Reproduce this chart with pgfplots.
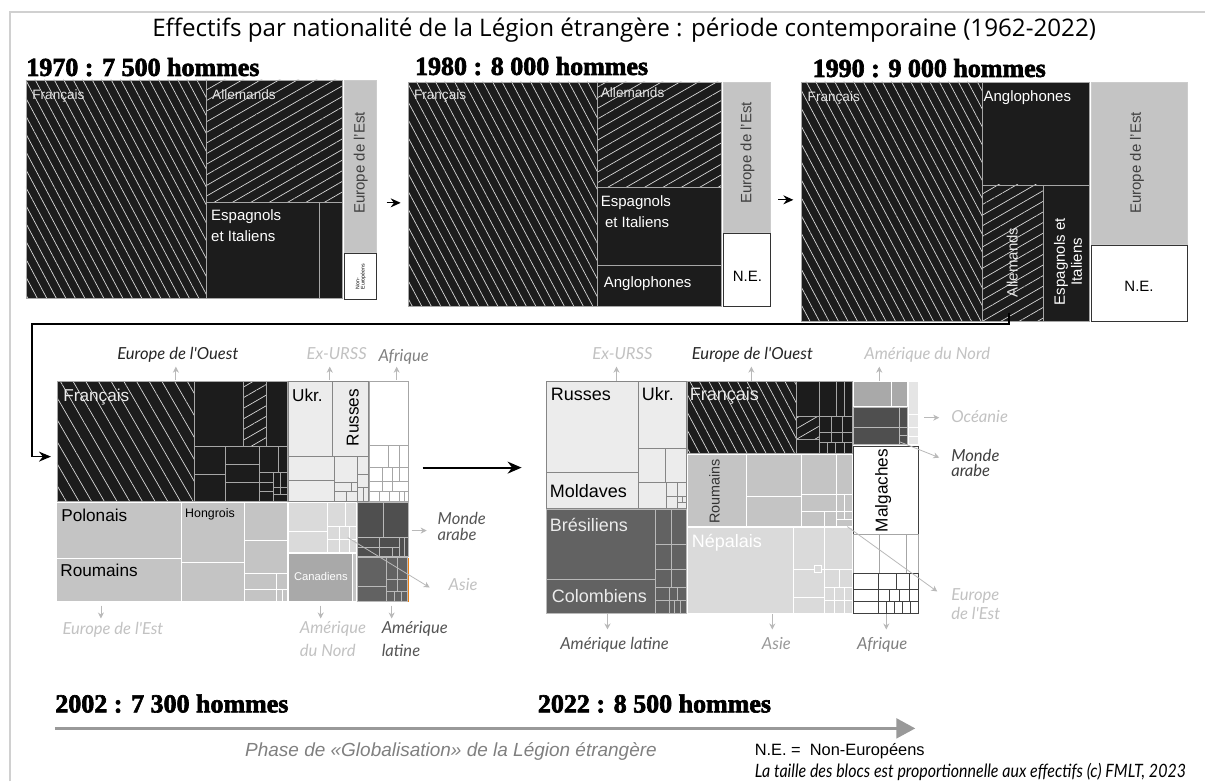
\documentclass[border=0pt]{standalone}
\usepackage{fontspec}
\setmainfont{Liberation Sans}
\newfontfamily\titlefont{Open Sans}
\newfontfamily\headfont{Liberation Serif}[BoldFeatures={FakeBold=2.5}]
\newfontfamily\itfont{Lato}
\usepackage{pgfplots}
\pgfplotsset{compat=1.18}
\usetikzlibrary{patterns.meta,arrows.meta}
\definecolor{blk}{HTML}{1C1C1C}
\definecolor{eeg}{HTML}{C4C4C4}
\definecolor{urss}{HTML}{ECECEC}
\definecolor{asie}{HTML}{DADADA}
\definecolor{amn}{HTML}{A9A9A9}
\definecolor{arab}{HTML}{4F4F4F}
\definecolor{amlat}{HTML}{626262}
\definecolor{lab}{HTML}{C2C2C2}
\definecolor{labd}{HTML}{555555}
\definecolor{frame}{HTML}{D0D0D0}
\newcommand{\fs}[1]{\fontsize{#1}{#1}\selectfont}
\newcommand{\R}[5][]{\addplot[#1] coordinates {(#2,#3) (#4,#3) (#4,#5) (#2,#5)} -- cycle;}
\newcommand{\hd}[1]{{\headfont\bfseries\fs{13}#1}}
\tikzset{
  bk/.style={fill=blk, draw=gray!70, line width=0.35pt},
  hsA/.style={preaction={fill=blk}, pattern={Lines[angle=-62,distance=4.2pt,line width=0.35pt]}, pattern color=white!85!black, draw=gray!70, line width=0.35pt},
  hsB/.style={preaction={fill=blk}, pattern={Lines[angle=-60,distance=5.5pt,line width=0.35pt]}, pattern color=white!85!black, draw=gray!70, line width=0.35pt},
  hsC/.style={preaction={fill=blk}, pattern={Lines[angle=30,distance=4.6pt,line width=0.35pt]}, pattern color=white!85!black, draw=gray!70, line width=0.35pt},
  ee/.style={fill=eeg, draw=white, line width=0.5pt},
  eet/.style={fill=eeg, draw=gray!40, line width=0.4pt},
  ne/.style={fill=white, draw=black!80, line width=0.5pt},
  ur/.style={fill=urss, draw=gray!95, line width=0.4pt},
  af/.style={fill=white, draw=gray!70, line width=0.4pt},
  afb/.style={fill=white, draw=black!75, line width=0.4pt},
  as/.style={fill=asie, draw=white, line width=0.5pt},
  an/.style={fill=amn, draw=white, line width=0.5pt},
  ar/.style={fill=arab, draw=gray!55, line width=0.4pt},
  al/.style={fill=amlat, draw=gray!55, line width=0.4pt},
  oc/.style={fill=black!10, draw=white, line width=0.4pt},
  sa/.style={draw=gray!55, line width=0.4pt, -{Stealth[length=3pt,width=3pt]}},
  ba/.style={draw=black, line width=0.6pt, -{Stealth[length=5pt,width=4.5pt]}},
  lt/.style={font=\itfont\itshape\fs{8.3}},
  bx/.style={font=\fs{7.5}, inner sep=0pt},
}
\begin{document}
\begin{tikzpicture}
\begin{axis}[scale only axis, width=603pt, height=391pt,
  xmin=0, xmax=1206, ymin=0, ymax=782, y dir=reverse,
  hide axis, clip=false]
% background and frame
\R[fill=white, draw=none]{0}{0}{1206}{782}
\addplot[draw=frame, line width=1pt] coordinates {(10,782) (10,12) (1206,12)};
% ===== 1970 =====
\R[hsA]{26}{80}{207}{299}
\R[hsC]{207}{80}{343}{203}
\R[bk]{207}{203}{320}{299}
\R[bk]{320}{203}{343}{299}
\R[eet]{345}{80}{377}{253}
\R[ne]{345}{254}{377}{300}
% ===== 1980 =====
\R[hsA]{409}{82}{598}{307}
\R[hsC]{598}{82}{722}{187}
\R[bk]{598}{187}{722}{266}
\R[bk]{598}{266}{722}{307}
\R[eet]{724}{82}{771}{233}
\R[ne]{724}{234}{771}{307}
% ===== 1990 =====
\R[hsA]{802}{82}{983}{322}
\R[bk]{983}{82}{1090}{185}
\R[hsC]{983}{185}{1044}{322}
\R[bk]{1044}{185}{1090}{322}
\R[eet]{1092}{82}{1188}{245}
\R[ne]{1092}{246}{1188}{322}
% arrows between top charts
\addplot[ba] coordinates {(387,203) (401,203)};
\addplot[ba] coordinates {(779,200) (794,200)};
\addplot[draw=black, line width=0.8pt, -{Stealth[length=6pt,width=5pt]}] coordinates {(1010,313) (1010,324) (32,324) (32,457) (51,457)};
% ===== 2002 =====
% Europe de l'Ouest
\R[hsB]{57}{382}{195}{502}
\R[bk]{195}{382}{244}{447}
\R[hsC]{244}{382}{267}{447}
\R[bk]{267}{382}{288}{447}
\R[bk]{195}{447}{226}{475}
\R[bk]{195}{475}{226}{502}
\R[bk]{226}{447}{260}{465}
\R[bk]{226}{465}{260}{483}
\R[bk]{226}{483}{260}{502}
\R[bk]{260}{447}{279}{473}
\R[bk]{279}{447}{288}{473}
\R[bk]{260}{473}{274}{483}
\R[bk]{260}{483}{274}{492}
\R[bk]{260}{492}{274}{502}
\R[bk]{274}{473}{281}{488}
\R[bk]{281}{473}{288}{488}
\R[bk]{274}{488}{281}{495}
\R[bk]{281}{488}{288}{495}
\R[bk]{274}{495}{288}{502}
% Ex-URSS
\R[ur]{289}{382}{333}{457}
\R[ur]{333}{382}{369}{457}
\R[ur]{289}{457}{335}{481}
\R[ur]{289}{481}{335}{502}
\R[ur]{335}{457}{358}{483}
\R[ur]{335}{483}{352}{492}
\R[ur]{352}{483}{358}{492}
\R[ur]{335}{492}{347}{502}
\R[ur]{347}{492}{358}{502}
\R[ur]{358}{457}{369}{475}
\R[ur]{358}{475}{369}{488}
\R[ur]{358}{488}{364}{502}
\R[ur]{364}{488}{369}{502}
% Afrique
\R[af]{370}{382}{409}{446}
\R[af]{370}{446}{389}{468}
\R[af]{389}{446}{400}{468}
\R[af]{400}{446}{409}{468}
\R[af]{370}{468}{383}{482}
\R[af]{383}{468}{393}{482}
\R[af]{393}{468}{400}{482}
\R[af]{400}{468}{409}{482}
\R[af]{370}{482}{383}{492}
\R[af]{383}{482}{393}{492}
\R[af]{393}{482}{409}{492}
\R[af]{370}{492}{380}{502}
\R[af]{380}{492}{390}{502}
\R[af]{390}{492}{400}{502}
\R[af]{400}{492}{405}{502}
\R[af]{405}{492}{409}{502}
% Europe de l'Est
\R[ee]{57}{503}{182}{559}
\R[ee]{57}{559}{182}{602}
\R[ee]{182}{503}{245}{563}
\R[ee]{182}{563}{245}{602}
\R[ee]{245}{503}{288}{541}
\R[ee]{245}{541}{288}{574}
\R[ee]{245}{574}{277}{590}
\R[ee]{245}{590}{277}{602}
\R[ee]{277}{574}{288}{590}
\R[ee]{277}{590}{283}{602}
\R[ee]{283}{590}{288}{602}
% Asie
\R[as]{289}{503}{328}{532}
\R[as]{289}{532}{328}{553}
\R[as]{328}{503}{346}{527}
\R[as]{346}{503}{357}{527}
\R[as]{328}{527}{340}{540}
\R[as]{340}{527}{350}{540}
\R[as]{350}{527}{357}{540}
\R[as]{328}{540}{340}{553}
\R[as]{340}{540}{350}{553}
\R[as]{350}{540}{357}{553}
% Amerique du Nord
\R[an]{289}{554}{353}{602}
\R[fill=eeg, draw=white, line width=0.5pt]{353}{554}{357}{602}
% Monde arabe
\R[ar]{358}{503}{384}{538}
\R[ar]{384}{503}{409}{538}
\R[ar]{358}{538}{380}{548}
\R[ar]{358}{548}{380}{557}
\R[ar]{380}{538}{400}{548}
\R[ar]{380}{548}{393}{557}
\R[ar]{393}{548}{400}{557}
\R[ar]{400}{538}{405}{557}
\R[ar]{405}{538}{409}{557}
% Amerique latine
\R[al]{358}{558}{387}{587}
\R[al]{358}{587}{387}{602}
\R[al]{387}{558}{398}{580}
\R[al]{398}{558}{408}{580}
\R[al]{387}{580}{398}{592}
\R[al]{398}{580}{408}{592}
\R[al]{387}{592}{395}{602}
\R[al]{395}{592}{402}{602}
\R[al]{402}{592}{408}{602}
\R[fill=orange!70!brown, draw=none]{408}{558}{409.5}{602}
% ===== 2022 =====
% Ex-URSS
\R[ur]{547}{382}{639}{473}
\R[ur]{547}{473}{639}{509}
\R[ur]{639}{382}{687}{449}
\R[ur]{639}{449}{666}{483}
\R[ur]{666}{449}{687}{483}
\R[ur]{639}{483}{667}{509}
\R[ur]{667}{483}{678}{497}
\R[ur]{678}{483}{687}{497}
\R[ur]{667}{497}{678}{509}
\R[ur]{678}{497}{683}{503}
\R[ur]{683}{497}{687}{503}
\R[ur]{678}{503}{687}{509}
% Amerique latine
\R[al]{547}{510}{656}{580}
\R[al]{547}{580}{656}{614}
\R[al]{656}{510}{672}{545}
\R[al]{672}{510}{687}{545}
\R[al]{656}{545}{672}{570}
\R[al]{672}{545}{687}{570}
\R[al]{656}{570}{672}{588}
\R[al]{672}{570}{687}{588}
\R[al]{656}{588}{670}{601}
\R[al]{656}{601}{670}{614}
\R[al]{670}{588}{678}{601}
\R[al]{678}{588}{687}{601}
\R[al]{670}{601}{675}{614}
\R[al]{675}{601}{681}{614}
\R[al]{681}{601}{687}{614}
% Europe de l'Ouest
\R[hsA]{688}{382}{797}{454}
\R[bk]{797}{382}{820}{417}
\R[hsC]{797}{417}{820}{440}
\R[bk]{797}{440}{820}{454}
\R[bk]{820}{382}{837}{417}
\R[bk]{837}{382}{845}{417}
\R[bk]{845}{382}{853}{417}
\R[bk]{820}{417}{832}{433}
\R[bk]{832}{417}{843}{433}
\R[bk]{843}{417}{853}{433}
\R[bk]{820}{433}{832}{443}
\R[bk]{832}{433}{843}{443}
\R[bk]{843}{433}{853}{443}
\R[bk]{820}{443}{828}{454}
\R[bk]{828}{443}{836}{454}
\R[bk]{836}{443}{845}{454}
\R[bk]{845}{443}{853}{454}
% Europe de l'Est
\R[ee]{688}{455}{747}{527}
\R[ee]{747}{455}{802}{497}
\R[ee]{747}{497}{802}{527}
\R[ee]{802}{455}{837}{495}
\R[ee]{802}{495}{837}{512}
\R[ee]{802}{512}{825}{527}
\R[ee]{825}{512}{837}{527}
\R[ee]{837}{455}{853}{495}
\R[ee]{837}{495}{845}{512}
\R[ee]{845}{495}{853}{512}
\R[ee]{837}{512}{845}{520}
\R[ee]{845}{512}{853}{520}
\R[ee]{837}{520}{853}{527}
% Asie
\R[as]{688}{528}{794}{614}
\R[as]{794}{528}{825}{570}
\R[as]{794}{570}{825}{598}
\R[as]{794}{598}{825}{614}
\R[as]{825}{528}{853}{570}
\R[as]{825}{570}{840}{588}
\R[as]{840}{570}{853}{588}
\R[as]{825}{588}{835}{601}
\R[as]{835}{588}{845}{601}
\R[as]{845}{588}{853}{601}
\R[as]{825}{601}{835}{614}
\R[as]{835}{601}{845}{614}
\R[as]{845}{601}{853}{614}
\R[as]{815}{566}{822}{573}
% Amerique du Nord
\R[an]{854}{382}{892}{407}
\R[an]{892}{382}{908}{407}
% Monde arabe
\R[ar]{854}{408}{900}{428}
\R[ar]{854}{428}{900}{445}
\R[ar]{900}{408}{908}{428}
\R[ar]{900}{428}{908}{436}
\R[ar]{900}{436}{908}{445}
% Oceanie
\R[oc]{909}{382}{919}{415}
\R[oc]{909}{415}{919}{428}
\R[oc]{909}{428}{919}{437}
\R[oc]{909}{437}{919}{445}
% Afrique
\R[afb]{854}{447}{919}{535}
\R[af]{854}{535}{880}{574}
\R[af]{880}{535}{907}{574}
\R[af]{907}{535}{919}{574}
\R[afb]{854}{574}{879}{590}
\R[afb]{854}{590}{879}{602}
\R[afb]{854}{602}{879}{614}
\R[afb]{879}{574}{897}{590}
\R[afb]{897}{574}{910}{590}
\R[afb]{910}{574}{919}{590}
\R[afb]{879}{590}{890}{602}
\R[afb]{890}{590}{900}{602}
\R[afb]{900}{590}{910}{602}
\R[afb]{910}{590}{919}{602}
\R[afb]{879}{602}{887}{614}
\R[afb]{887}{602}{895}{614}
\R[afb]{895}{602}{903}{614}
\R[afb]{903}{602}{911}{614}
\R[afb]{911}{602}{919}{614}
% arrow 2002 -> 2022
\addplot[draw=black, line width=0.9pt, -{Stealth[length=7pt,width=6pt]}] coordinates {(423,468) (522,468)};
% small label arrows 2002
\addplot[sa] coordinates {(176,380) (176,367)};
\addplot[sa] coordinates {(330,380) (330,367)};
\addplot[sa] coordinates {(397,380) (397,367)};
\addplot[sa] coordinates {(101,606) (101,619)};
\addplot[sa] coordinates {(321,606) (321,619)};
\addplot[sa] coordinates {(392,606) (392,619)};
\addplot[sa] coordinates {(412,531) (427,531)};
\addplot[sa] coordinates {(348,538) (430,588)};
% small label arrows 2022
\addplot[sa] coordinates {(617,381) (617,367)};
\addplot[sa] coordinates {(752,381) (752,367)};
\addplot[sa] coordinates {(880,381) (880,367)};
\addplot[sa] coordinates {(608,615) (608,630)};
\addplot[sa] coordinates {(773,615) (773,630)};
\addplot[sa] coordinates {(887,615) (887,630)};
\addplot[sa] coordinates {(925,418) (940,418)};
\addplot[sa] coordinates {(900,442) (940,458)};
\addplot[sa] coordinates {(848,527) (938,592)};
% bottom gray arrow
\addplot[draw=gray!80, line width=1.2pt, -{Triangle[length=9.5pt,width=10pt]}] coordinates {(55,729) (916,729)};

% ===== TEXT =====
\node[anchor=base west, inner sep=0pt, font=\titlefont\fs{12.1}] at (axis cs:152,36.5) {Effectifs par nationalité de la Légion étrangère : période contemporaine (1962-2022)};
\node[anchor=base west, inner sep=0pt] at (axis cs:26,76) {\hd{1970 : 7 500 hommes}};
\node[anchor=base west, inner sep=0pt] at (axis cs:415,75) {\hd{1980 : 8 000 hommes}};
\node[anchor=base west, inner sep=0pt] at (axis cs:813,77) {\hd{1990 : 9 000 hommes}};
\node[anchor=base west, inner sep=0pt] at (axis cs:55,713) {\hd{2002 : 7 300 hommes}};
\node[anchor=base west, inner sep=0pt] at (axis cs:538,713) {\hd{2022 : 8 500 hommes}};
% 1970 labels
\node[bx, anchor=base west, font=\fs{6.8}, text=white!90!black] at (axis cs:32,100) {Français};
\node[bx, anchor=base west, font=\fs{6.8}, text=white!90!black] at (axis cs:212,100) {Allemands};
\node[bx, anchor=base west, text=white, align=left] at (axis cs:211,242) {Espagnols\\[3pt]et Italiens};
\node[bx, rotate=90, text=black!75] at (axis cs:361,163) {Europe de l'Est};
\node[inner sep=0pt, rotate=90, font=\fs{2.6}, align=left] at (axis cs:361,277) {Non-\\Européens};
% 1980 labels
\node[bx, anchor=base west, font=\fs{6.8}, text=white!90!black] at (axis cs:414,100) {Français};
\node[bx, anchor=base west, font=\fs{6.8}, text=white!90!black] at (axis cs:601,98) {Allemands};
\node[bx, anchor=base west, text=white, align=left] at (axis cs:601,228) {Espagnols\\[3pt]\ et Italiens};
\node[bx, anchor=base west, text=white] at (axis cs:604,288) {Anglophones};
\node[bx, rotate=90, text=black!75] at (axis cs:748,153) {Europe de l'Est};
\node[bx] at (axis cs:748,277) {N.E.};
% 1990 labels
\node[bx, anchor=base west, font=\fs{6.8}, text=white!90!black] at (axis cs:808,102) {Français};
\node[bx, anchor=base west, text=white] at (axis cs:984,102) {Anglophones};
\node[bx, rotate=90, text=white!90!black] at (axis cs:1013,263) {Allemands};
\node[bx, rotate=90, text=white, align=center] at (axis cs:1069,262) {Espagnols et\\[1pt]Italiens};
\node[bx, rotate=90, text=black!75] at (axis cs:1138,163) {Europe de l'Est};
\node[bx] at (axis cs:1140,287) {N.E.};
% 2002 labels
\node[bx, anchor=base west, font=\fs{8.6}, text=white!92!black] at (axis cs:63,402) {Français};
\node[bx, anchor=base west, font=\fs{8.6}] at (axis cs:292,402) {Ukr.};
\node[bx, rotate=90, font=\fs{8.6}] at (axis cs:353,418) {Russes};
\node[bx, anchor=base west, font=\fs{8.6}] at (axis cs:61,522) {Polonais};
\node[bx, anchor=base west, font=\fs{8.6}] at (axis cs:60,577) {Roumains};
\node[bx, anchor=base west, font=\fs{6.2}] at (axis cs:185,518) {Hongrois};
\node[bx, anchor=base west, font=\fs{5.6}, text=white] at (axis cs:294,581) {Canadiens};
\node[lt, anchor=base, text=black!85] at (axis cs:178,360) {Europe de l'Ouest};
\node[lt, anchor=base, text=lab] at (axis cs:337,360) {Ex-URSS};
\node[lt, anchor=base, text=gray] at (axis cs:404,362) {Afrique};
\node[lt, anchor=base, text=lab] at (axis cs:113,635) {Europe de l'Est};
\node[lt, anchor=base west, text=lab, align=left] at (axis cs:293,657) {Amérique\\[3pt]du Nord};
\node[lt, anchor=base west, text=labd, align=left] at (axis cs:375,657) {Amérique\\[3pt]latine};
\node[lt, anchor=base west, text=labd, align=left] at (axis cs:431,541) {Monde\\[-0.5pt]arabe};
\node[lt, anchor=base west, text=lab] at (axis cs:442,591) {Asie};
% 2022 labels
\node[bx, anchor=base west, font=\fs{9}] at (axis cs:551,401) {Russes};
\node[bx, anchor=base west, font=\fs{9}] at (axis cs:642,401) {Ukr.};
\node[bx, anchor=base west, font=\fs{9}] at (axis cs:550,498) {Moldaves};
\node[bx, anchor=base west, font=\fs{9}, text=white!92!black] at (axis cs:690,401) {Français};
\node[bx, anchor=base west, font=\fs{9}, text=white!92!black] at (axis cs:550,532) {Brésiliens};
\node[bx, anchor=base west, font=\fs{9}, text=white!92!black] at (axis cs:552,603) {Colombiens};
\node[bx, rotate=90, font=\fs{7.2}, text=black!80] at (axis cs:715,492) {Roumains};
\node[bx, anchor=base west, font=\fs{9}, text=white] at (axis cs:692,548) {Népalais};
\node[bx, rotate=90, font=\fs{8.6}] at (axis cs:884,491) {Malgaches};
\node[lt, anchor=base, text=lab] at (axis cs:623,360) {Ex-URSS};
\node[lt, anchor=base, text=black!85] at (axis cs:753,360) {Europe de l'Ouest};
\node[lt, anchor=base west, text=lab] at (axis cs:858,360) {Amérique du Nord};
\node[lt, anchor=base west, text=lab] at (axis cs:945,423) {Océanie};
\node[lt, anchor=base west, text=black!75, align=left] at (axis cs:945,477) {Monde\\[-0.5pt]arabe};
\node[lt, anchor=base west, text=lab, align=left] at (axis cs:945,620) {Europe\\[1pt]de l'Est};
\node[lt, anchor=base, text=labd] at (axis cs:615,650) {Amérique latine};
\node[lt, anchor=base, text=gray!80] at (axis cs:777,650) {Asie};
\node[lt, anchor=base, text=gray] at (axis cs:883,650) {Afrique};
% bottom notes
\node[anchor=base west, inner sep=0pt, font=\itshape\fs{9.5}, text=gray] at (axis cs:245,757) {Phase de «Globalisation» de la Légion étrangère};
\node[anchor=base west, inner sep=0pt, font=\fs{8.2}] at (axis cs:755,756) {N.E. =\ \ Non-Européens};
\node[anchor=base west, inner sep=0pt] at (axis cs:755,778) {\scalebox{0.87}[1]{\itfont\itshape\fs{9.2}La taille des blocs est proportionnelle aux effectifs (c) FMLT, 2023}};
\end{axis}
\end{tikzpicture}
\end{document}
